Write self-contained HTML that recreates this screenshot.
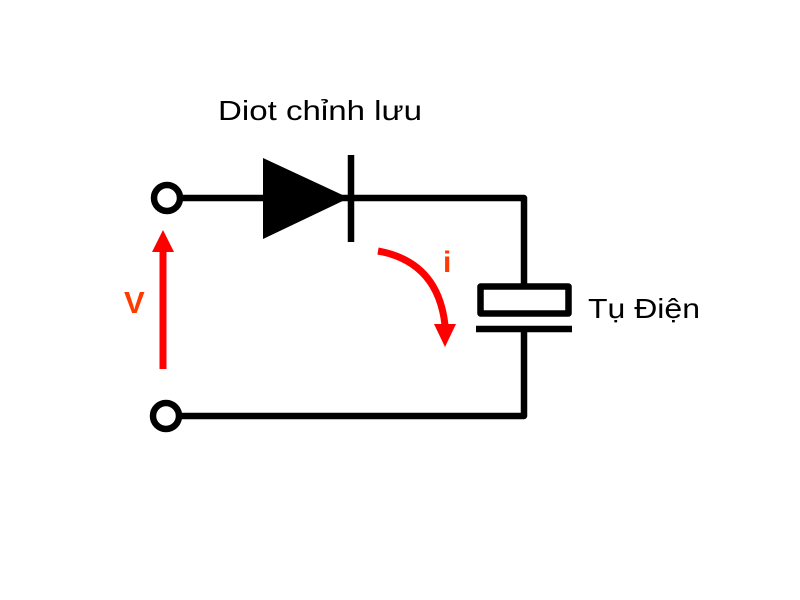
<!DOCTYPE html>
<html><head><style>html,body{margin:0;padding:0;background:#fff;}svg{display:block}</style></head>
<body>
<svg width="800" height="600" viewBox="0 0 800 600" xmlns="http://www.w3.org/2000/svg">
<rect width="800" height="600" fill="#fff"/>
<text x="218" y="120" font-family="Liberation Sans, sans-serif" font-size="28" textLength="204" lengthAdjust="spacingAndGlyphs" fill="#000">Diot chỉnh lưu</text>
<text x="588" y="318" font-family="Liberation Sans, sans-serif" font-size="28" textLength="112" lengthAdjust="spacingAndGlyphs" fill="#000">Tụ Điện</text>
<text x="124" y="313" font-family="Liberation Sans, sans-serif" font-size="31" font-weight="bold" fill="#ff3a00">V</text>
<text x="443" y="272" font-family="Liberation Sans, sans-serif" font-size="30" font-weight="bold" fill="#ff3a00">i</text>
<g stroke="#000" stroke-width="6.5" fill="none" stroke-linejoin="round">
<polyline points="180,198 524,198 524,286"/>
<polyline points="524,330 524,416 179,416"/>
<circle cx="167" cy="198" r="13" fill="#fff"/>
<circle cx="166" cy="416" r="13" fill="#fff"/>
<rect x="480.5" y="286.5" width="88" height="27" fill="#fff"/>
<line x1="476" y1="329" x2="572" y2="329"/>
<line x1="351" y1="155" x2="351" y2="242"/>
</g>
<polygon points="263,158 349,198 263,239" fill="#000"/>
<line x1="163" y1="369" x2="163" y2="250" stroke="#ff0000" stroke-width="7"/>
<polygon points="152,252 174,252 163,230" fill="#ff0000"/>
<path d="M378,251 Q438,262 445,325" stroke="#ff0000" stroke-width="7" fill="none"/>
<polygon points="434,324 456,324 445,347" fill="#ff0000"/>
</svg>
</body></html>
